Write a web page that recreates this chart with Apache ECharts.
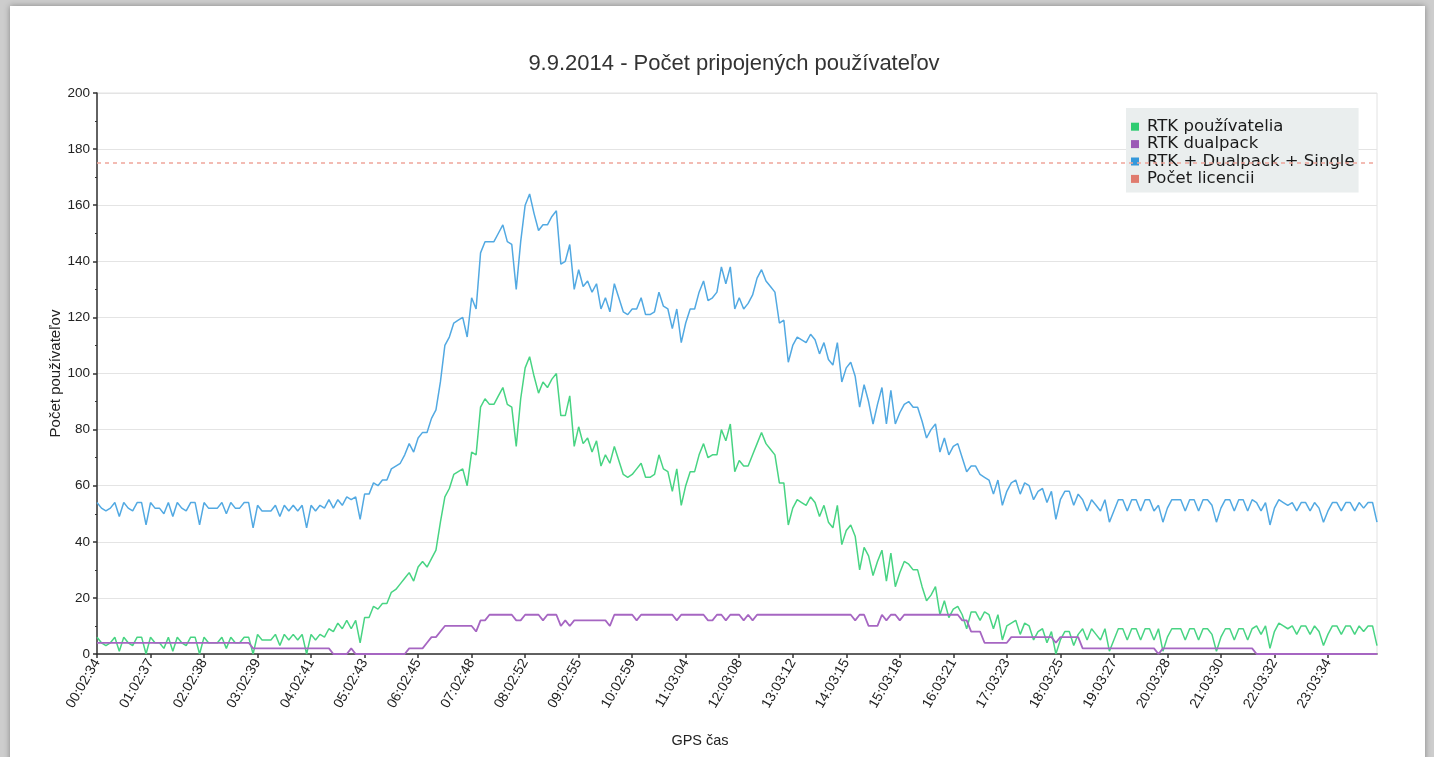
<!DOCTYPE html>
<html><head><meta charset="utf-8">
<script src="https://cdn.jsdelivr.net/npm/echarts@6/dist/echarts.min.js"></script>
<style>
html,body{margin:0;padding:0;width:1434px;height:757px;overflow:hidden;background:#cdcdcd;}
#panel{position:absolute;left:10px;top:6px;width:1415px;height:770px;background:#fff;box-shadow:0 0 6px rgba(0,0,0,0.35);}
#chart{position:absolute;left:0;top:0;width:1434px;height:757px;}
</style></head>
<body><div id="panel"></div><div id="chart"></div>
<script>
const chartTitle = '9.9.2014 - Počet pripojených používateľov';
const seriesNames = ['RTK používatelia', 'RTK dualpack', 'RTK + Dualpack + Single', 'Počet licencii'];
const hourLabels = ['00:02:34','01:02:37','02:02:38','03:02:39','04:02:41','05:02:43','06:02:45','07:02:48',
  '08:02:52','09:02:55','10:02:59','11:03:04','12:03:08','13:03:12','14:03:15','15:03:18','16:03:21',
  '17:03:23','18:03:25','19:03:27','20:03:28','21:03:30','22:03:32','23:03:34'];
const licenseLimit = 175;

const rtkUsers = [
  6,4,3,4,6,1,6,4,3,6,6,0,
  6,4,4,2,6,1,6,4,3,6,6,0,
  6,4,4,4,6,2,6,4,4,6,6,0,
  7,5,5,5,7,3,7,5,7,5,7,0,
  7,5,7,6,9,8,11,9,12,9,12,4,
  13,13,17,16,18,18,22,23,25,27,29,26,
  31,33,31,34,37,47,56,59,64,65,66,60,
  72,71,88,91,89,89,92,95,89,88,74,91,
  102,106,99,93,97,95,98,100,85,85,92,74,
  81,75,77,72,76,67,71,68,74,69,64,63,
  64,66,68,63,63,64,71,66,65,58,66,53,
  60,65,65,71,75,70,71,71,80,76,82,65,
  69,67,67,71,75,79,75,73,71,61,61,46,
  52,55,54,53,56,54,49,53,47,45,53,39,
  44,46,42,30,38,35,28,33,37,26,36,24,
  29,33,32,30,30,24,19,21,24,14,19,13,
  16,17,14,9,15,15,12,15,14,9,14,5,
  10,11,12,7,11,10,5,8,9,4,8,0,
  5,8,8,3,7,9,5,9,7,5,9,1,
  5,9,9,5,9,9,5,9,9,5,9,1,
  6,9,9,9,5,9,9,5,9,9,7,1,
  6,9,9,5,9,9,5,9,10,7,10,2,
  8,11,10,9,10,7,10,10,7,10,8,3,
  7,10,10,7,10,10,7,10,8,10,10,3
];
const rtkDualpack = [
  4,4,4,4,4,4,4,4,4,4,4,4,
  4,4,4,4,4,4,4,4,4,4,4,4,
  4,4,4,4,4,4,4,4,4,4,4,2,
  2,2,2,2,2,2,2,2,2,2,2,2,
  2,2,2,2,2,0,0,0,0,2,0,0,
  0,0,0,0,0,0,0,0,0,0,2,2,
  2,2,4,6,6,8,10,10,10,10,10,10,
  10,8,12,12,14,14,14,14,14,14,12,12,
  14,14,14,14,12,14,14,14,10,12,10,12,
  12,12,12,12,12,12,12,10,14,14,14,14,
  14,12,14,14,14,14,14,14,14,14,12,14,
  14,14,14,14,14,12,12,14,14,12,14,14,
  14,12,14,12,14,14,14,14,14,14,14,14,
  14,14,14,14,14,14,14,14,14,14,14,14,
  14,14,12,14,14,10,10,10,14,12,14,14,
  12,14,14,14,14,14,14,14,14,14,14,14,
  14,14,12,12,8,8,8,4,4,4,4,4,
  4,6,6,6,6,6,6,6,6,6,6,4,
  6,6,6,6,6,2,2,2,2,2,2,2,
  2,2,2,2,2,2,2,2,2,2,0,2,
  2,2,2,2,2,2,2,2,2,2,2,2,
  2,2,2,2,2,2,2,2,0,0,0,0,
  0,0,0,0,0,0,0,0,0,0,0,0,
  0,0,0,0,0,0,0,0,0,0,0,0
];
const rtkTotal = [
  54,52,51,52,54,49,54,52,51,54,54,46,
  54,52,52,50,54,49,54,52,51,54,54,46,
  54,52,52,52,54,50,54,52,52,54,54,45,
  53,51,51,51,53,49,53,51,53,51,53,45,
  53,51,53,52,55,52,55,53,56,55,56,48,
  57,57,61,60,62,62,66,67,68,71,75,72,
  77,79,79,84,87,97,110,113,118,119,120,113,
  127,123,143,147,147,147,150,153,147,146,130,147,
  160,164,157,151,153,153,156,158,139,140,146,130,
  137,131,133,129,132,123,127,122,132,127,122,121,
  123,123,127,121,121,122,129,124,123,116,123,111,
  118,123,123,129,133,126,127,129,138,132,138,123,
  127,123,125,128,134,137,133,131,129,118,119,104,
  110,113,112,111,114,112,107,111,105,103,111,97,
  102,104,99,88,96,90,82,89,95,82,94,82,
  86,89,90,88,88,83,77,80,82,72,77,71,
  74,75,70,65,67,67,64,63,62,57,62,53,
  58,61,62,57,61,60,55,58,59,54,58,48,
  55,58,58,53,57,55,51,55,53,51,55,47,
  51,55,55,51,55,55,51,55,55,51,53,47,
  52,55,55,55,51,55,55,51,55,55,53,47,
  52,55,55,51,55,55,51,55,54,51,54,46,
  52,55,54,53,54,51,54,54,51,54,52,47,
  51,54,54,51,54,54,51,54,52,54,54,47
];

// category axis: one sample every 5 minutes, anchored at each hourly tick label
function pad(n){ return (n < 10 ? '0' : '') + n; }
const categories = [];
hourLabels.forEach(function (lab) {
  const p = lab.split(':').map(Number);
  const base = p[0] * 3600 + p[1] * 60 + p[2];
  for (let k = 0; k < 12; k++) {
    const t = base + k * 300;
    categories.push(k === 0 ? lab : pad(Math.floor(t / 3600) % 24) + ':' + pad(Math.floor(t / 60) % 60) + ':' + pad(t % 60));
  }
});

const chart = echarts.init(document.getElementById('chart'), null, {renderer: 'canvas'});
const axisFont = 'Liberation Sans, Arial, sans-serif';
chart.setOption({
  backgroundColor: 'transparent',
  animation: false,
  title: {
    text: chartTitle, left: 729, top: 48, textAlign: 'center',
    textStyle: {fontFamily: axisFont, fontSize: 22, fontWeight: 'normal', color: '#333'}
  },
  legend: {
    orient: 'vertical', left: 1126, top: 108, icon: 'rect',
    itemWidth: 8, itemHeight: 8, itemGap: 0,
    padding: [10, 4, 5, 5],
    backgroundColor: '#eaeeee',
    data: seriesNames,
    itemStyle: {borderWidth: 0},
    textStyle: {fontFamily: 'DejaVu Sans', fontSize: 16.5, lineHeight: 17.4, color: '#1a1a1a', padding: [0, 0, 0, 3]}
  },
  grid: {left: 97, right: 57, top: 93, bottom: 103, show: true, borderColor: '#e2e2e2', borderWidth: 1},
  xAxis: {
    type: 'category', boundaryGap: false, data: categories,
    axisLine: {lineStyle: {color: '#333', width: 1.5}},
    axisTick: {interval: 11, length: 4, lineStyle: {color: '#333', width: 1.5}},
    axisLabel: {interval: 11, rotate: 60, fontFamily: axisFont, fontSize: 14, color: '#222', margin: 6},
    splitLine: {show: false}
  },
  yAxis: {
    type: 'value', min: 0, max: 200, interval: 20,
    name: 'Počet používateľov', nameLocation: 'middle', nameGap: 34, nameMoveOverlap: false,
    nameTextStyle: {fontFamily: axisFont, fontSize: 15, color: '#222'},
    axisLine: {show: true, lineStyle: {color: '#333', width: 1.5}},
    axisTick: {show: true, length: 4, lineStyle: {color: '#333', width: 1.5}},
    minorTick: {show: true, splitNumber: 2, length: 2, lineStyle: {color: '#333'}},
    axisLabel: {fontFamily: axisFont, fontSize: 13.5, color: '#222', margin: 7},
    splitLine: {lineStyle: {color: '#e4e4e4', width: 1}}
  },
  graphic: [{
    type: 'text', x: 700, y: 741,
    style: {text: 'GPS čas', textAlign: 'center', textVerticalAlign: 'middle', font: '14.5px Liberation Sans, Arial, sans-serif', fill: '#222'}
  }],
  series: [
    {name: seriesNames[0], type: 'line', data: rtkUsers, showSymbol: false, z: 3,
     itemStyle: {color: '#2ecc71'}, lineStyle: {color: '#48d483', width: 1.5}},
    {name: seriesNames[1], type: 'line', data: rtkDualpack, showSymbol: false, z: 4,
     itemStyle: {color: '#9b59b6'}, lineStyle: {color: '#a666c2', width: 1.8}},
    {name: seriesNames[2], type: 'line', data: rtkTotal, showSymbol: false, z: 3,
     itemStyle: {color: '#3498db'}, lineStyle: {color: '#52a9e2', width: 1.5}},
    {name: seriesNames[3], type: 'line', data: [], showSymbol: false,
     itemStyle: {color: '#e07b6e'}, lineStyle: {color: '#f0a59a', type: [4, 4], width: 1.5},
     markLine: {silent: true, symbol: 'none', label: {show: false},
       lineStyle: {color: '#f0a59a', type: [4, 4], width: 1.5},
       data: [{yAxis: licenseLimit}]}}
  ]
});
</script>
</body></html>
